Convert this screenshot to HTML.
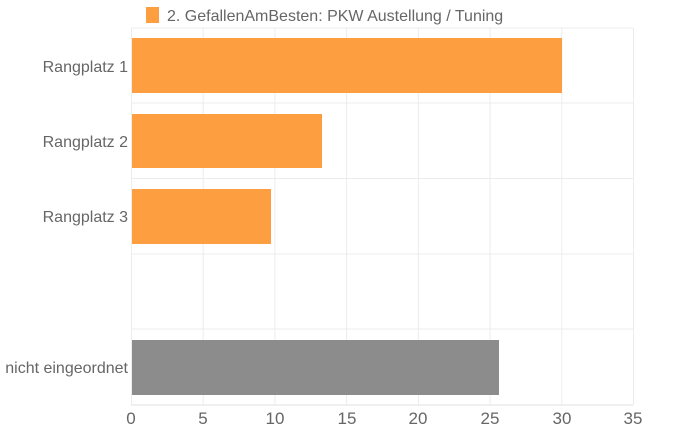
<!DOCTYPE html>
<html><head><meta charset="utf-8"><style>
body{margin:0;background:#fff;}
svg{display:block;font-family:"Liberation Sans",sans-serif;}
</style></head><body>
<svg width="687" height="436" viewBox="0 0 687 436">
<rect x="146" y="7" width="13" height="16" fill="#fd9f40"/>
<text x="167" y="21" font-size="16" fill="#666">2. GefallenAmBesten: PKW Austellung / Tuning</text>
<g stroke="#ececec" stroke-width="1">
<line x1="131" y1="28" x2="633" y2="28"/>
<line x1="131" y1="103" x2="633" y2="103"/>
<line x1="131" y1="178.5" x2="633" y2="178.5"/>
<line x1="131" y1="254" x2="633" y2="254"/>
<line x1="131" y1="329" x2="633" y2="329"/>
<line x1="131.5" y1="28" x2="131.5" y2="405"/>
<line x1="203.2" y1="28" x2="203.2" y2="405"/>
<line x1="274.9" y1="28" x2="274.9" y2="405"/>
<line x1="346.6" y1="28" x2="346.6" y2="405"/>
<line x1="418.4" y1="28" x2="418.4" y2="405"/>
<line x1="490.1" y1="28" x2="490.1" y2="405"/>
<line x1="561.8" y1="28" x2="561.8" y2="405"/>
<line x1="633.5" y1="28" x2="633.5" y2="405"/>
</g>
<line x1="131" y1="405" x2="633" y2="405" stroke="#e0e0e0"/>
<rect x="132" y="38" width="430" height="55" fill="#fd9f40"/>
<rect x="132" y="114" width="190" height="54" fill="#fd9f40"/>
<rect x="132" y="189" width="139" height="55" fill="#fd9f40"/>
<rect x="132" y="340" width="367" height="55" fill="#8c8c8c"/>
<g font-size="16" fill="#666" text-anchor="end">
<text x="128" y="72">Rangplatz 1</text>
<text x="128" y="147">Rangplatz 2</text>
<text x="128" y="222">Rangplatz 3</text>
<text x="128" y="373">nicht eingeordnet</text>
</g>
<g font-size="17" fill="#666" text-anchor="middle">
<text x="131" y="424">0</text>
<text x="203" y="424">5</text>
<text x="275" y="424">10</text>
<text x="347" y="424">15</text>
<text x="418" y="424">20</text>
<text x="490" y="424">25</text>
<text x="562" y="424">30</text>
<text x="633" y="424">35</text>
</g>
</svg>
</body></html>
